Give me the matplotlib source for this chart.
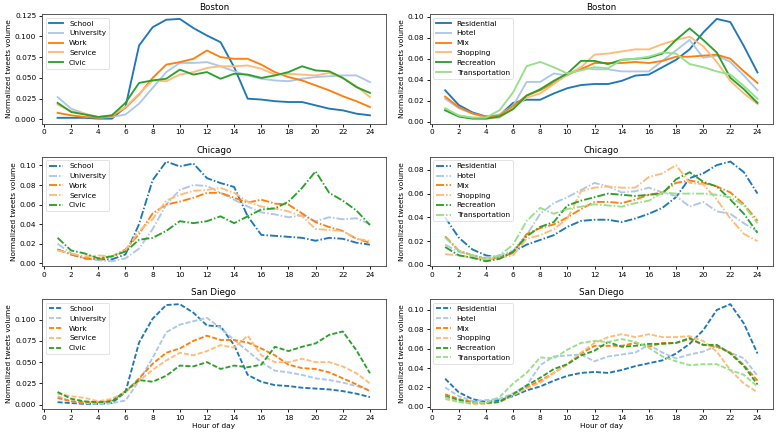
import matplotlib
matplotlib.use("Agg")
import matplotlib.pyplot as plt
from matplotlib.ticker import MultipleLocator
import numpy as np

hours = np.arange(1, 25)
cities = ["Boston", "Chicago", "San Diego"]
left_names = ["School", "University", "Work", "Service", "Civic"]
right_names = ["Residential", "Hotel", "Mix", "Shopping", "Recreation", "Transportation"]

################### Boston
bos_school = [0.002, 0.002, 0.002, 0.001, 0.001, 0.015, 0.089, 0.111, 0.120, 0.121, 0.110, 0.101,
              0.093, 0.063, 0.025, 0.024, 0.022, 0.021, 0.021, 0.017, 0.013, 0.011, 0.007, 0.005]
bos_university = [0.027, 0.013, 0.007, 0.002, 0.003, 0.006, 0.019, 0.038, 0.057, 0.068, 0.068, 0.069,
                  0.064, 0.058, 0.053, 0.049, 0.047, 0.046, 0.049, 0.051, 0.052, 0.053, 0.053, 0.045]
bos_work = [0.008, 0.005, 0.003, 0.002, 0.004, 0.014, 0.030, 0.050, 0.066, 0.069, 0.073, 0.083,
            0.075, 0.073, 0.073, 0.066, 0.057, 0.051, 0.047, 0.041, 0.035, 0.028, 0.022, 0.015]
bos_service = [0.018, 0.010, 0.007, 0.003, 0.005, 0.015, 0.031, 0.047, 0.046, 0.054, 0.057, 0.062,
               0.064, 0.064, 0.065, 0.061, 0.054, 0.055, 0.054, 0.053, 0.056, 0.050, 0.040, 0.027]
bos_civic = [0.020, 0.009, 0.006, 0.003, 0.005, 0.020, 0.044, 0.047, 0.049, 0.060, 0.054, 0.057,
             0.049, 0.055, 0.054, 0.050, 0.053, 0.057, 0.064, 0.059, 0.058, 0.050, 0.039, 0.032]

bos_residential = [0.030, 0.016, 0.009, 0.005, 0.006, 0.018, 0.021, 0.021, 0.027, 0.032, 0.035, 0.036,
                   0.036, 0.039, 0.044, 0.045, 0.052, 0.059, 0.069, 0.085, 0.098, 0.095, 0.072, 0.047]
bos_hotel = [0.022, 0.013, 0.008, 0.004, 0.007, 0.015, 0.038, 0.038, 0.046, 0.044, 0.052, 0.050,
             0.050, 0.048, 0.048, 0.048, 0.058, 0.068, 0.078, 0.061, 0.063, 0.057, 0.044, 0.030]
bos_mix = [0.024, 0.014, 0.008, 0.005, 0.006, 0.015, 0.025, 0.030, 0.037, 0.045, 0.050, 0.056,
           0.056, 0.056, 0.057, 0.056, 0.058, 0.062, 0.062, 0.063, 0.064, 0.060, 0.048, 0.037]
bos_shopping = [0.011, 0.006, 0.004, 0.003, 0.004, 0.013, 0.023, 0.027, 0.036, 0.045, 0.052, 0.064,
                0.065, 0.067, 0.069, 0.069, 0.074, 0.078, 0.081, 0.072, 0.057, 0.039, 0.027, 0.017]
bos_recreation = [0.011, 0.005, 0.003, 0.003, 0.005, 0.012, 0.025, 0.031, 0.039, 0.046, 0.058, 0.058,
                  0.055, 0.059, 0.060, 0.061, 0.065, 0.078, 0.089, 0.078, 0.066, 0.042, 0.031, 0.018]
bos_transport = [0.013, 0.006, 0.004, 0.004, 0.011, 0.028, 0.053, 0.057, 0.052, 0.046, 0.049, 0.052,
                 0.051, 0.059, 0.060, 0.062, 0.066, 0.065, 0.055, 0.052, 0.048, 0.045, 0.034, 0.022]

################### Chicago
chi_school = [0.014, 0.009, 0.005, 0.004, 0.004, 0.009, 0.040, 0.085, 0.104, 0.099, 0.102, 0.087,
              0.082, 0.078, 0.048, 0.029, 0.028, 0.027, 0.026, 0.023, 0.026, 0.025, 0.021, 0.019]
chi_university = [0.020, 0.010, 0.005, 0.003, 0.002, 0.005, 0.015, 0.035, 0.060, 0.075, 0.080, 0.079,
                  0.072, 0.065, 0.058, 0.052, 0.050, 0.047, 0.049, 0.043, 0.047, 0.045, 0.046, 0.040]
chi_work = [0.014, 0.009, 0.005, 0.004, 0.007, 0.014, 0.030, 0.051, 0.060, 0.063, 0.067, 0.072,
            0.072, 0.067, 0.062, 0.065, 0.061, 0.060, 0.051, 0.042, 0.037, 0.033, 0.025, 0.021]
chi_service = [0.013, 0.010, 0.007, 0.008, 0.007, 0.013, 0.033, 0.045, 0.064, 0.070, 0.074, 0.075,
               0.077, 0.072, 0.063, 0.058, 0.056, 0.053, 0.048, 0.035, 0.034, 0.033, 0.025, 0.023]
chi_civic = [0.026, 0.013, 0.010, 0.005, 0.007, 0.012, 0.024, 0.026, 0.033, 0.043, 0.041, 0.043,
             0.048, 0.041, 0.048, 0.055, 0.056, 0.063, 0.077, 0.094, 0.072, 0.064, 0.054, 0.039]

chi_residential = [0.040, 0.023, 0.013, 0.008, 0.006, 0.011, 0.017, 0.021, 0.025, 0.032, 0.037, 0.038,
                   0.038, 0.036, 0.039, 0.043, 0.048, 0.057, 0.073, 0.077, 0.084, 0.087, 0.078, 0.060]
chi_hotel = [0.017, 0.011, 0.008, 0.006, 0.008, 0.012, 0.025, 0.043, 0.052, 0.057, 0.063, 0.069,
             0.066, 0.061, 0.062, 0.065, 0.061, 0.058, 0.049, 0.053, 0.045, 0.043, 0.035, 0.028]
chi_mix = [0.024, 0.012, 0.008, 0.005, 0.006, 0.010, 0.026, 0.031, 0.034, 0.040, 0.047, 0.053,
           0.053, 0.052, 0.055, 0.059, 0.061, 0.069, 0.071, 0.069, 0.066, 0.061, 0.051, 0.037]
chi_shopping = [0.009, 0.008, 0.006, 0.004, 0.006, 0.008, 0.022, 0.025, 0.030, 0.039, 0.062, 0.065,
                0.066, 0.065, 0.065, 0.074, 0.077, 0.084, 0.069, 0.068, 0.055, 0.039, 0.026, 0.020]
chi_recreation = [0.015, 0.008, 0.006, 0.003, 0.005, 0.011, 0.024, 0.032, 0.036, 0.050, 0.054, 0.057,
                  0.060, 0.059, 0.058, 0.059, 0.060, 0.072, 0.078, 0.070, 0.066, 0.055, 0.043, 0.027]
chi_transport = [0.023, 0.012, 0.008, 0.005, 0.008, 0.017, 0.037, 0.048, 0.043, 0.047, 0.049, 0.051,
                 0.050, 0.049, 0.052, 0.054, 0.061, 0.060, 0.060, 0.060, 0.059, 0.057, 0.050, 0.035]

################### San Diego
sd_school = [0.003, 0.002, 0.001, 0.001, 0.002, 0.015, 0.073, 0.101, 0.117, 0.118, 0.108, 0.093,
             0.092, 0.070, 0.035, 0.027, 0.023, 0.022, 0.020, 0.019, 0.018, 0.016, 0.013, 0.009]
sd_university = [0.010, 0.004, 0.002, 0.001, 0.002, 0.005, 0.028, 0.055, 0.085, 0.094, 0.098, 0.102,
                 0.090, 0.076, 0.063, 0.050, 0.040, 0.038, 0.035, 0.031, 0.029, 0.026, 0.022, 0.017]
sd_work = [0.008, 0.004, 0.003, 0.003, 0.005, 0.015, 0.031, 0.048, 0.061, 0.066, 0.075, 0.081,
           0.076, 0.076, 0.073, 0.066, 0.058, 0.047, 0.043, 0.042, 0.038, 0.031, 0.024, 0.016]
sd_service = [0.013, 0.010, 0.008, 0.004, 0.007, 0.015, 0.028, 0.041, 0.052, 0.061, 0.058, 0.063,
              0.070, 0.067, 0.081, 0.058, 0.050, 0.050, 0.054, 0.050, 0.050, 0.045, 0.037, 0.025]
sd_civic = [0.015, 0.007, 0.004, 0.003, 0.004, 0.016, 0.029, 0.027, 0.034, 0.046, 0.045, 0.050,
            0.042, 0.046, 0.044, 0.047, 0.068, 0.063, 0.068, 0.072, 0.082, 0.086, 0.064, 0.037]

sd_residential = [0.029, 0.015, 0.008, 0.005, 0.007, 0.011, 0.017, 0.021, 0.027, 0.032, 0.035, 0.036,
                  0.035, 0.038, 0.042, 0.045, 0.048, 0.055, 0.065, 0.079, 0.100, 0.106, 0.086, 0.055]
sd_hotel = [0.020, 0.011, 0.006, 0.007, 0.008, 0.014, 0.022, 0.043, 0.052, 0.053, 0.054, 0.047,
            0.052, 0.054, 0.056, 0.064, 0.056, 0.050, 0.054, 0.057, 0.063, 0.056, 0.050, 0.032]
sd_mix = [0.013, 0.008, 0.005, 0.004, 0.005, 0.012, 0.020, 0.027, 0.035, 0.044, 0.055, 0.063,
          0.063, 0.063, 0.066, 0.062, 0.066, 0.066, 0.070, 0.064, 0.062, 0.056, 0.043, 0.027]
sd_shopping = [0.008, 0.005, 0.003, 0.003, 0.005, 0.012, 0.019, 0.025, 0.035, 0.044, 0.056, 0.066,
               0.072, 0.075, 0.072, 0.075, 0.072, 0.072, 0.073, 0.068, 0.057, 0.038, 0.024, 0.015]
sd_recreation = [0.011, 0.007, 0.004, 0.004, 0.005, 0.013, 0.022, 0.030, 0.039, 0.044, 0.053, 0.058,
                 0.067, 0.062, 0.063, 0.065, 0.065, 0.066, 0.071, 0.064, 0.064, 0.055, 0.042, 0.023]
sd_transport = [0.010, 0.005, 0.004, 0.004, 0.010, 0.024, 0.035, 0.051, 0.050, 0.059, 0.066, 0.068,
                0.067, 0.070, 0.067, 0.061, 0.052, 0.047, 0.043, 0.044, 0.044, 0.038, 0.033, 0.021]

left_data = [
    [bos_school, bos_university, bos_work, bos_service, bos_civic],
    [chi_school, chi_university, chi_work, chi_service, chi_civic],
    [sd_school, sd_university, sd_work, sd_service, sd_civic],
]
right_data = [
    [bos_residential, bos_hotel, bos_mix, bos_shopping, bos_recreation, bos_transport],
    [chi_residential, chi_hotel, chi_mix, chi_shopping, chi_recreation, chi_transport],
    [sd_residential, sd_hotel, sd_mix, sd_shopping, sd_recreation, sd_transport],
]

colors = ["#1f77b4", "#aec7e8", "#ff7f0e", "#ffbb78", "#2ca02c", "#98df8a"]
# solid / dash-dot / dashed, dash lengths tuned to the thick lines
styles = ["-", (0, (4.3, 1.1, 0.8, 1.1)), (0, (2.7, 1.1))]
# y tick spacing per panel (left column, right column)
ysteps = [(0.025, 0.02), (0.02, 0.02), (0.025, 0.02)]

# draw big, save small (the original looks like a downscaled figure)
DPI = 48
plt.rcParams['font.size'] = 11
fig, axes = plt.subplots(3, 2, figsize=(777 / DPI, 435 / DPI), dpi=DPI)
plt.subplots_adjust(left=0.054, right=0.995, top=0.968, bottom=0.06, wspace=0.128, hspace=0.3)

for r in range(3):
    for c, (names, data) in enumerate([(left_names, left_data), (right_names, right_data)]):
        ax = axes[r, c]
        for k, (name, vals) in enumerate(zip(names, data[r])):
            ax.plot(hours, vals, linestyle=styles[r], color=colors[k], label=name, linewidth=2.8)
        ax.set_title(cities[r])
        ax.set_ylabel("Normalized tweets volume")
        ax.set_xticks(range(0, 25, 2))
        ax.yaxis.set_major_locator(MultipleLocator(ysteps[r][c]))
        ax.legend(loc="upper left")
        for s in ax.spines.values():
            s.set_color("#444444")
            s.set_linewidth(1.3)
        ax.tick_params(width=1.3, length=5)
        if r == 2:
            ax.set_xlabel("Hour of day")

fig.savefig("out.png", dpi=DPI)
